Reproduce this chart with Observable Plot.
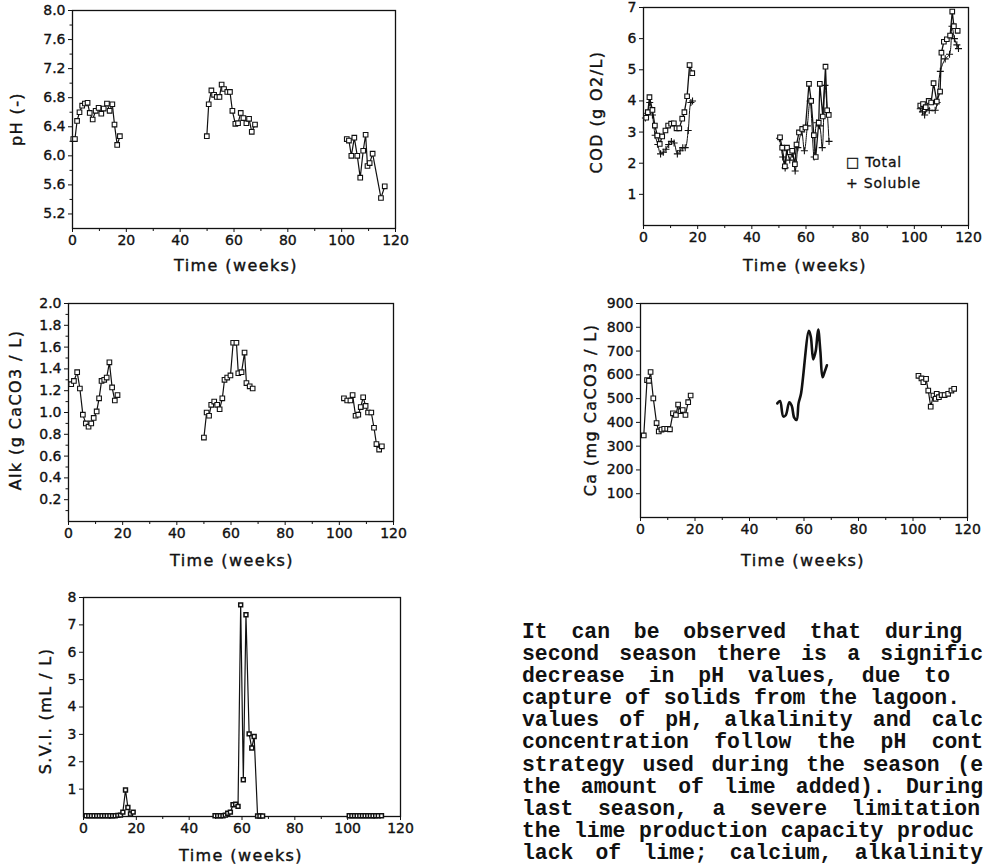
<!DOCTYPE html>
<html><head><meta charset="utf-8">
<script src="https://cdn.jsdelivr.net/npm/d3@7"></script>
<script src="https://cdn.jsdelivr.net/npm/@observablehq/plot@0.6"></script>
<style>
body{margin:0;width:985px;height:867px;overflow:hidden;background:#fff;position:relative;font-family:"DejaVu Sans",sans-serif;color:#111}
.panel{position:absolute}
.panel svg text{stroke:#111;stroke-width:0.35px}
.xt{position:absolute;font-size:16px;letter-spacing:1.4px;transform:translate(-50%,-50%);white-space:nowrap;-webkit-text-stroke:0.4px #111}
.yt{position:absolute;font-size:16px;letter-spacing:1.4px;transform:translate(-50%,-50%) rotate(-90deg);white-space:nowrap;-webkit-text-stroke:0.4px #111}
.leg{position:absolute;font-size:14px;letter-spacing:0.8px;white-space:nowrap;-webkit-text-stroke:0.3px #111}
#para{position:absolute;left:522px;top:621px;font-family:"Liberation Mono",monospace;font-weight:bold;font-size:21.4px;line-height:22.1px;color:#111}
#para div{text-align:justify;text-align-last:justify;white-space:normal}
</style></head>
<body>
<script>
// ---------- data ----------
const xMajor = [0, 20, 40, 60, 80, 100, 120];
const xMinor = [10, 30, 50, 70, 90, 110];

const pHTicks = [5.2, 5.6, 6.0, 6.4, 6.8, 7.2, 7.6, 8.0];
const pHMinor = [5.4, 5.8, 6.2, 6.6, 7.0, 7.4, 7.8];
const pH_s1 = [[0.3,6.23],[0.9,6.23],[1.7,6.48],[2.6,6.60],[3.6,6.69],[4.6,6.72],[5.6,6.73],[6.4,6.59],[7.5,6.50],[8.6,6.62],[9.7,6.66],[10.7,6.58],[11.6,6.65],[12.8,6.72],[13.8,6.62],[14.8,6.71],[15.6,6.43],[16.6,6.15],[17.6,6.27]];
const pH_s2 = [[49.9,6.27],[50.6,6.71],[51.6,6.90],[52.6,6.84],[53.6,6.81],[54.6,6.81],[55.4,6.98],[56.3,6.92],[57.5,6.88],[58.5,6.88],[59.4,6.62],[60.5,6.44],[61.5,6.45],[62.5,6.59],[63.5,6.52],[64.6,6.45],[65.6,6.51],[66.6,6.33],[67.8,6.43]];
const pH_s3 = [[101.9,6.23],[102.7,6.21],[103.6,6.00],[104.7,6.25],[105.8,6.00],[106.9,5.70],[108.0,6.07],[108.9,6.29],[109.6,5.86],[110.4,5.90],[111.5,6.03],[114.6,5.42],[116.0,5.58]];

const codTicks = [1, 2, 3, 4, 5, 6, 7];
const codTotal_s1 = [[1.0,3.46],[1.6,3.64],[2.2,4.12],[3.3,3.71],[4.2,3.21],[5.1,2.89],[6.0,2.62],[6.9,2.86],[8.1,3.05],[9.1,3.21],[10.2,3.27],[11.2,3.28],[12.2,3.12],[13.2,3.12],[14.3,3.43],[15.1,3.64],[16.1,4.15],[17.0,5.15],[18.0,4.89]];
const codSol_s1 = [[0.7,3.45],[1.6,3.6],[2.3,3.95],[3.3,3.55],[4.3,2.9],[5.3,2.6],[6.3,2.3],[7.3,2.35],[8.3,2.45],[9.3,2.6],[10.3,2.7],[11.3,2.65],[12.5,2.3],[13.5,2.4],[14.5,2.5],[15.4,2.5],[16.5,3.05],[17.5,3.95],[18.1,4.0]];
const codTotal_s2 = [[50.4,2.83],[51.2,2.5],[52.2,1.9],[53.0,2.5],[54.0,2.35],[54.9,2.4],[55.9,1.97],[56.5,2.6],[57.4,2.99],[58.6,3.1],[59.8,3.15],[61.1,4.55],[61.9,4.0],[62.9,2.9],[63.6,2.2],[64.7,3.3],[65.1,4.55],[66.2,3.5],[67.2,5.1],[67.8,3.7],[68.4,3.55]];
const codSol_s2 = [[50.2,2.8],[51.4,2.2],[52.3,1.85],[53.0,2.4],[54.0,2.1],[55.0,2.3],[56.0,1.75],[57.0,2.5],[58.4,3.0],[59.4,2.4],[60.5,3.2],[61.5,4.0],[63.0,2.2],[64.0,3.3],[65.0,3.2],[66.0,2.5],[67.0,4.5],[68.5,2.7]];
const codTotal_s3 = [[102.2,3.85],[103.2,3.9],[104.2,3.8],[105.3,4.0],[106.2,3.95],[107.1,4.57],[108.3,3.98],[109.5,4.3],[110.0,5.55],[110.9,5.9],[112.0,5.98],[113.2,6.1],[114.0,6.87],[114.6,6.4],[116.0,6.25]];
const codSol_s3 = [[102.2,3.75],[103.0,3.65],[103.8,3.55],[104.6,3.75],[105.5,3.7],[107.7,3.7],[108.4,3.95],[109.6,4.95],[111.4,5.35],[113.0,5.5],[113.9,6.4],[114.8,6.0],[115.7,5.8],[116.3,5.68]];

const alkTicks = [0.2, 0.4, 0.6, 0.8, 1.0, 1.2, 1.4, 1.6, 1.8, 2.0];
const alkMinor = [0.1, 0.3, 0.5, 0.7, 0.9, 1.1, 1.3, 1.5, 1.7, 1.9];
const alk_s1 = [[1.0,1.26],[2.0,1.29],[3.2,1.37],[4.2,1.22],[5.3,0.98],[6.4,0.90],[7.4,0.87],[8.4,0.90],[9.3,0.95],[10.4,1.01],[11.3,1.13],[12.2,1.29],[13.2,1.30],[14.1,1.32],[15.1,1.46],[16.1,1.23],[17.1,1.11],[18.1,1.16]];
const alk_s2 = [[50.0,0.77],[51.0,1.00],[51.9,0.97],[52.7,1.07],[53.8,1.10],[54.9,1.07],[55.8,1.03],[56.8,1.13],[57.6,1.30],[58.6,1.32],[59.8,1.34],[60.8,1.64],[62.0,1.64],[62.7,1.36],[63.9,1.37],[65.0,1.55],[65.7,1.27],[66.9,1.24],[68.0,1.22]];
const alk_s3 = [[101.7,1.13],[102.9,1.11],[104.1,1.11],[104.9,1.16],[106.0,0.97],[107.0,0.98],[107.9,1.05],[108.8,1.14],[109.7,1.06],[110.6,1.00],[111.8,1.00],[112.8,0.86],[113.7,0.71],[114.7,0.66],[115.7,0.69]];

const caTicks = [100, 200, 300, 400, 500, 600, 700, 800, 900];
const ca_s1 = [[1.2,345],[2.4,578],[3.1,575],[3.7,612],[4.7,501],[5.9,397],[6.7,362],[7.7,370],[8.7,373],[9.8,373],[10.8,371],[11.9,438],[13.0,431],[13.8,475],[14.7,447],[15.5,452],[16.5,431],[17.5,485],[18.4,513]];
const ca_s2 = [[50.2,480],[51.2,490],[52.4,425],[53.3,430],[54.6,485],[55.5,470],[56.4,420],[57.3,410],[58.0,480],[58.9,520],[61.8,785],[62.5,760],[63.4,665],[64.3,700],[65.2,790],[66.0,700],[66.8,590],[67.5,610],[68.4,640]];
const ca_s3 = [[102.0,596],[103.1,585],[103.8,569],[104.8,583],[105.6,534],[106.5,466],[107.5,513],[108.3,499],[108.7,520],[109.5,506],[110.5,515],[111.6,515],[112.9,520],[114.1,534],[115.1,541]];

const sviTicks = [1, 2, 3, 4, 5, 6, 7, 8];
const svi_s1 = [[1,0.03],[2,0.03],[3,0.03],[4,0.03],[5,0.03],[6,0.03],[7,0.03],[8,0.03],[9,0.03],[10,0.03],[11,0.03],[12,0.03],[13,0.04],[14,0.05],[14.9,0.16],[15.9,0.97],[16.8,0.33],[17.8,0.09],[18.8,0.16]];
const svi_s2 = [[49.8,0.03],[50.8,0.03],[51.8,0.03],[52.8,0.03],[53.7,0.05],[54.6,0.12],[55.6,0.16],[56.6,0.43],[57.6,0.45],[58.5,0.37],[59.5,7.73],[60.5,1.34],[61.5,7.37],[62.7,3.02],[63.7,2.5],[64.6,2.92],[65.9,0.02],[66.8,0.02],[67.8,0.02]];
const svi_s3 = [[100.6,0.03],[101.6,0.03],[102.6,0.03],[103.6,0.03],[104.6,0.03],[105.6,0.03],[106.6,0.03],[107.6,0.03],[108.6,0.03],[109.6,0.03],[110.6,0.03],[111.6,0.03],[112.8,0.03]];

// paragraph lines as they appear (the column is cut by the page edge)
const paragraph = [
  "It can be observed that during",
  "second season there is a signific",
  "decrease in pH values, due to",
  "capture of solids from the lagoon.",
  "values of pH, alkalinity and calc",
  "concentration follow the pH cont",
  "strategy used during the season (e",
  "the amount of lime added). During",
  "last season, a severe limitation",
  "the lime production capacity produc",
  "lack of lime; calcium, alkalinity"
];
// layout only: justified width of each line
const paraWidths = [440, 461, 428, 438, 461, 461, 461, 461, 458, 452, 461];

// ---------- helpers ----------
const X = d => d[0], Y = d => d[1];
function lineMarks(sets, opts = {}) {
  return sets.map(s => Plot.line(s, {x: X, y: Y, stroke: "#111", strokeWidth: opts.sw || 1.2, curve: opts.curve || "linear"}));
}
function dotMarks(sets, opts = {}) {
  return sets.map(s => Plot.dot(s, {x: X, y: Y, symbol: opts.symbol || "square", r: opts.r || 2.6,
    fill: opts.fill || "white", stroke: "#111", strokeWidth: opts.sw || 1.1}));
}
function panel(cfg) {
  const p = Plot.plot({
    width: cfg.width, height: cfg.height,
    marginLeft: cfg.ml, marginRight: cfg.mr, marginTop: cfg.mt, marginBottom: cfg.mb,
    style: {fontFamily: "DejaVu Sans, sans-serif", fontSize: "14px", color: "#111", background: "transparent", overflow: "visible"},
    x: {domain: [0, 120]},
    y: {domain: cfg.yDomain},
    marks: [
      Plot.axisX({ticks: xMajor, tickSize: 4, tickPadding: 3, label: null, fontSize: 14}),
      Plot.axisX({ticks: xMinor, tickSize: 3, tickFormat: () => "", label: null}),
      Plot.axisY({ticks: cfg.yTicks, tickSize: 4, tickPadding: 3, tickFormat: cfg.yFormat, label: null, fontSize: 14}),
      ...(cfg.yMinor ? [Plot.axisY({ticks: cfg.yMinor, tickSize: 2.5, tickFormat: () => "", label: null})] : []),
      Plot.frame({stroke: "#111", strokeWidth: 1.3}),
      ...cfg.marks
    ]
  });
  const div = document.createElement("div");
  div.className = "panel";
  div.style.left = cfg.left + "px";
  div.style.top = cfg.top + "px";
  div.appendChild(p);
  document.body.appendChild(div);
}
function label(cls, text, x, y) {
  const d = document.createElement("div");
  d.className = cls; d.textContent = text;
  d.style.left = x + "px"; d.style.top = y + "px";
  document.body.appendChild(d);
}
const f1 = d3.format(".1f");

// ---------- panels ----------
panel({left: 0, top: 0, width: 415, height: 275, ml: 72, mr: 20, mt: 10, mb: 47,
  yDomain: [5.0, 8.0], yTicks: pHTicks, yMinor: pHMinor, yFormat: f1,
  marks: [...lineMarks([pH_s1, pH_s2, pH_s3]), ...dotMarks([pH_s1, pH_s2, pH_s3])]});
label("xt", "Time (weeks)", 236, 265);
label("yt", "pH (-)", 16, 119);

panel({left: 560, top: 0, width: 425, height: 280, ml: 83, mr: 17, mt: 7, mb: 55,
  yDomain: [0, 7], yTicks: codTicks, yFormat: d => String(d),
  marks: [
    ...lineMarks([codSol_s1, codSol_s2, codSol_s3], {curve: "catmull-rom", sw: 1.0}),
    ...lineMarks([codTotal_s1, codTotal_s2, codTotal_s3], {sw: 1.3}),
    ...dotMarks([codSol_s1, codSol_s2, codSol_s3], {symbol: "plus", r: 2.4, sw: 1.1}),
    ...dotMarks([codTotal_s1, codTotal_s2, codTotal_s3], {r: 2.6})
  ]});
label("xt", "Time (weeks)", 805, 265);
label("yt", "COD (g O2/L)", 596, 112);
label("leg", "\u25A1 Total", 846, 154);
label("leg", "+ Soluble", 846, 175);

panel({left: 0, top: 280, width: 415, height: 270, ml: 68, mr: 22, mt: 23, mb: 29,
  yDomain: [0, 2.0], yTicks: alkTicks, yMinor: alkMinor, yFormat: f1,
  marks: [...lineMarks([alk_s1, alk_s2, alk_s3]), ...dotMarks([alk_s1, alk_s2, alk_s3])]});
label("xt", "Time (weeks)", 232, 560);
label("yt", "Alk (g CaCO3 / L)", 15, 410);

panel({left: 560, top: 280, width: 425, height: 270, ml: 80, mr: 18, mt: 23, mb: 33,
  yDomain: [0, 900], yTicks: caTicks, yFormat: d => String(d),
  marks: [
    ...lineMarks([ca_s1, ca_s3]),
    ...lineMarks([ca_s2], {sw: 2.6, curve: "catmull-rom"}),
    ...dotMarks([ca_s1, ca_s3])
  ]});
label("xt", "Time (weeks)", 803, 560);
label("yt", "Ca (mg CaCO3 / L)", 590, 410);

panel({left: 0, top: 590, width: 425, height: 257, ml: 83, mr: 25, mt: 7, mb: 31,
  yDomain: [0, 8], yTicks: sviTicks, yFormat: d => String(d),
  marks: [...lineMarks([svi_s1, svi_s2, svi_s3]), ...dotMarks([svi_s1, svi_s2, svi_s3], {r: 2.2, sw: 1.5})]});
label("xt", "Time (weeks)", 241, 855);
label("yt", "S.V.I. (mL / L)", 45, 711);

// ---------- paragraph ----------
const para = document.createElement("div");
para.id = "para";
paragraph.forEach((t, i) => {
  const d = document.createElement("div");
  d.textContent = t;
  d.style.width = paraWidths[i] + "px";
  para.appendChild(d);
});
document.body.appendChild(para);
</script>
</body></html>
